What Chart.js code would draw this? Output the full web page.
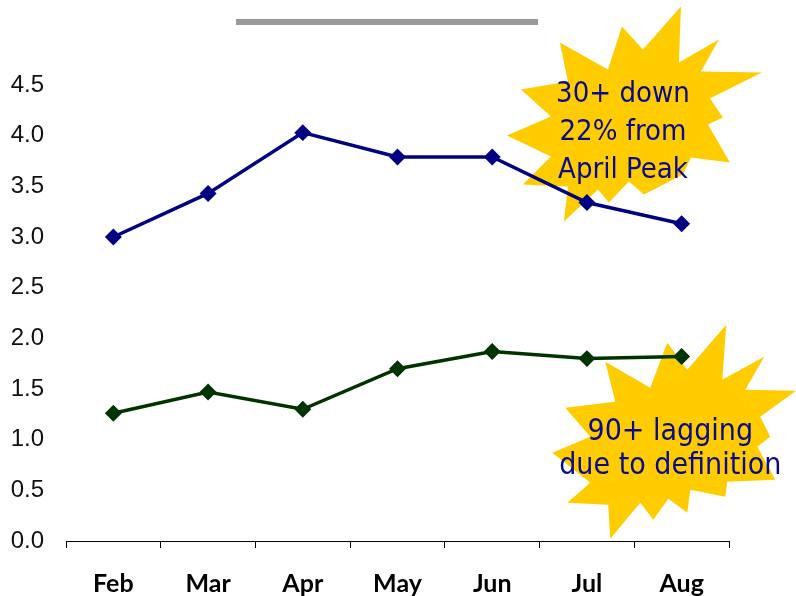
<!DOCTYPE html>
<html>
<head>
<meta charset="utf-8">
<script src="https://cdn.jsdelivr.net/npm/chart.js@4"></script>
<style>
  body { margin: 0; background: #fff; }
  #wrap { width: 796px; height: 596px; }
</style>
</head>
<body>
<div id="wrap"><canvas id="line-chart" width="796" height="596"></canvas></div>
<script>
const months = ['Feb', 'Mar', 'Apr', 'May', 'Jun', 'Jul', 'Aug']
const thirtyPlus = [3.0, 3.43, 4.03, 3.79, 3.79, 3.34, 3.13]
const ninetyPlus = [1.26, 1.47, 1.30, 1.70, 1.87, 1.80, 1.82]

const calloutOne = ['30+ down', '22% from', 'April Peak']
const calloutTwo = ['90+ lagging', 'due to definition']

// star outlines, offsets from the anchor point
const starOne = [[40,-113],[38,-57],[78,-80],[60,-48],[121,-47],[69,-21],[82,-2],[67,5],[89,43],[50,38],[42,55],[3,75],[-12,62],[-32,83],[-43,70],[-77,102],[-73,67],[-118,65],[-90,37],[-134,16],[-90,-3],[-120,-30],[-73,-38],[-81,-77],[-33,-50],[-19,-93],[2,-70]]
const starTwo = [[56,-115],[52,-60],[94,-83],[75,-50],[126,-49],[90,-23],[100,-3],[87,7],[105,40],[57,42],[55,57],[20,50],[17,73],[-2,59],[-17,80],[-30,63],[-60,99],[-62,65],[-103,63],[-80,43],[-118,13],[-80,-3],[-105,-32],[-55,-38],[-65,-78],[-20,-52],[-3,-97],[17,-70]]

function anchor(chart, xv, yv){
  return [chart.scales.x.getPixelForValue(xv), chart.scales.y.getPixelForValue(yv)]
}

function drawStar(ctx, c, pts){
  ctx.beginPath()
  pts.forEach((p, i) => {
    if(i === 0) ctx.moveTo(c[0] + p[0], c[1] + p[1])
    else ctx.lineTo(c[0] + p[0], c[1] + p[1])
  })
  ctx.closePath()
  ctx.fillStyle = '#ffcc00'
  ctx.fill()
}

function drawLines(ctx, c, lines, dx, dy, gap){
  ctx.fillStyle = '#0a0a8c'
  ctx.textAlign = 'center'
  ctx.textBaseline = 'middle'
  lines.forEach((t, i) => ctx.fillText(t, c[0] + dx, c[1] + dy + i * gap))
}

const callouts = {
  id: 'callouts',
  beforeDatasetsDraw(chart){
    const ctx = chart.ctx
    ctx.save()
    // grey rule under the (cropped) title
    ctx.fillStyle = '#999999'
    ctx.fillRect(236, 19, 302, 6)
    drawStar(ctx, anchor(chart, 5.57, 4.16), starOne)
    drawStar(ctx, anchor(chart, 5.88, 1.0), starTwo)
    ctx.restore()
  },
  afterDatasetsDraw(chart){
    const ctx = chart.ctx
    ctx.save()
    ctx.font = '29px "DejaVu Sans Condensed", "DejaVu Sans", sans-serif'
    drawLines(ctx, anchor(chart, 5.57, 4.16), calloutOne, -18, -25, 38)
    ctx.font = '30px "DejaVu Sans Condensed", "DejaVu Sans", sans-serif'
    drawLines(ctx, anchor(chart, 5.88, 1.0), calloutTwo, 0, -7, 34)
    ctx.restore()
  }
}

const data = {
  labels: months,
  datasets: [{
    label: '30+',
    data: thirtyPlus,
    borderColor: '#000080',
    backgroundColor: '#000080',
    borderWidth: 3.5,
    pointStyle: 'rectRot',
    pointRadius: 6,
    pointHoverRadius: 6,
    tension: 0,
  }, {
    label: '90+',
    data: ninetyPlus,
    borderColor: '#003300',
    backgroundColor: '#003300',
    borderWidth: 3.5,
    pointStyle: 'rectRot',
    pointRadius: 6,
    pointHoverRadius: 6,
    tension: 0,
  }]
}

const configLine = {
  type: 'line',
  data: data,
  options: {
    responsive: false,
    animation: false,
    layout: { padding: { top: 85, right: 67, left: 0, bottom: 0 } },
    scales: {
      x: {
        offset: true,
        grid: {
          offset: true,
          drawOnChartArea: false,
          drawTicks: true,
          tickLength: 7,
          color: '#000',
        },
        border: { display: true, color: '#000', width: 1 },
        ticks: {
          color: '#000',
          padding: 21,
          font: { family: 'Lato, "DejaVu Sans Condensed", sans-serif', size: 25, weight: 'bold' },
        },
        afterFit(scale){ scale.height = 55 },
      },
      y: {
        min: 0,
        max: 4.5,
        grid: { display: false },
        border: { display: false },
        ticks: {
          stepSize: 0.5,
          color: '#111',
          padding: 14,
          font: { family: '"Liberation Sans", Arial, sans-serif', size: 24 },
          callback: v => Number(v).toFixed(1),
        },
        afterFit(scale){ scale.width = 66 },
      },
    },
    plugins: {
      legend: { display: false },
      tooltip: { enabled: false },
      title: { display: false },
    },
  },
  plugins: [callouts],
}

const lineChart = new Chart(document.getElementById('line-chart'), configLine)
</script>
</body>
</html>
